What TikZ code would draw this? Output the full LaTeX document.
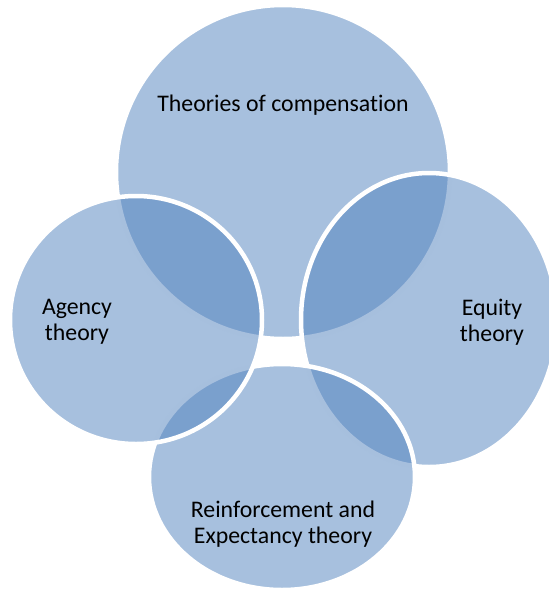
\documentclass[tikz,border=0pt]{standalone}
\usepackage{fontspec}
\setmainfont{Carlito}[Ligatures=CommonOff]
\definecolor{venn}{RGB}{79,129,189}
\tikzset{
    petal/.style={fill=venn, fill opacity=0.5, draw=white, line width=4.5pt},
    lbl/.style={align=center, inner sep=0pt, font=\fontsize{23.8}{26}\selectfont},
}
\begin{document}
\begin{tikzpicture}[x=1pt, y=-1pt]
    \clip (0,0) rectangle (549,590);

    \coordinate (top) at (283,172);
    \coordinate (right) at (429,320);
    \coordinate (bottom) at (282,477);
    \coordinate (left) at (136,320);

    % later ellipses lay their white rim over the earlier ones
    \draw [petal] (top) ellipse [x radius=167pt, y radius=167pt];
    \draw [petal] (right) ellipse [x radius=128pt, y radius=147pt];
    \draw [petal] (bottom) ellipse [x radius=133pt, y radius=113pt];
    \draw [petal] (left) ellipse [x radius=126pt, y radius=124pt];

    \node [lbl] (comp) at (283,105) {Theories of compensation};
    \node [lbl] (agency) at (77,322) {Agency\\theory};
    \node [lbl] (equity) at (492,322) {Equity\\theory};
    \node [lbl] (reinf) at (283,524) {Reinforcement and\\Expectancy theory};
\end{tikzpicture}
\end{document}
